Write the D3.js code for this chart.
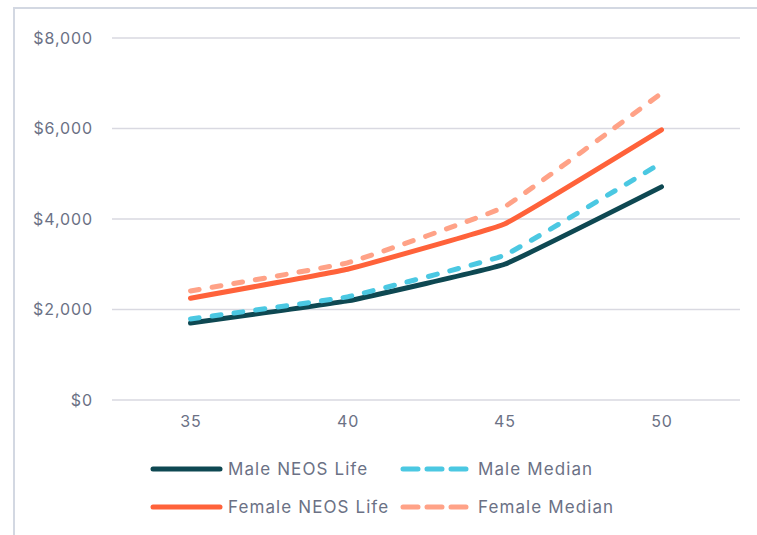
<!DOCTYPE html>
<html>
<head>
<meta charset="utf-8">
<script src="https://cdn.jsdelivr.net/npm/d3@7"></script>
<style>
  html, body { margin: 0; padding: 0; background: #fff; }
  svg { display: block; font-family: "Inter", "Open Sans", sans-serif; }
</style>
</head>
<body>
<svg id="chart" width="757" height="535"></svg>
<script>
// Annual premium by age
const ages = ["35", "40", "45", "50"];
const maleNeos = [1700, 2190, 3000, 4710];
const maleMedian = [1790, 2280, 3200, 5240];
const femaleNeos = [2250, 2890, 3890, 5970];
const femaleMedian = [2410, 3030, 4270, 6780];
const yTicks = [0, 2000, 4000, 6000, 8000];

const seriesNames = ["Male NEOS Life", "Male Median", "Female NEOS Life", "Female Median"];
const seriesColors = ["#0e4852", "#4bc8e2", "#ff623a", "#ffa287"];
const seriesDashed = [false, true, false, true];
const seriesValues = [maleNeos, maleMedian, femaleNeos, femaleMedian];

const svg = d3.select("#chart");
const textColor = "#6b7185";

// frame
svg.append("rect")
  .attr("x", 14).attr("y", 8)
  .attr("width", 780).attr("height", 560)
  .attr("fill", "none")
  .attr("stroke", "#d3d8e2")
  .attr("stroke-width", 2);

const x = d3.scalePoint().domain(ages).range([112, 740]).padding(0.5);
const y = d3.scaleLinear().domain([0, 8000]).range([400, 38]);

// gridlines
svg.append("g").selectAll("line").data(yTicks).join("line")
  .attr("x1", 112).attr("x2", 740)
  .attr("y1", d => y(d)).attr("y2", d => y(d))
  .attr("stroke", "#d9d9e1").attr("stroke-width", 1.5);

// y axis labels
const yAxis = svg.append("g")
  .attr("transform", "translate(93,0)")
  .call(d3.axisLeft(y).tickValues(yTicks).tickSize(0).tickPadding(0)
    .tickFormat(d => "$" + d3.format(",")(d)));
yAxis.select(".domain").remove();
yAxis.selectAll("text").attr("fill", textColor).attr("font-size", 16)
  .attr("letter-spacing", 0.9)
  .attr("font-family", "Inter, 'Open Sans', sans-serif");

// x axis labels
const xAxis = svg.append("g")
  .attr("transform", "translate(0,416)")
  .call(d3.axisBottom(x).tickSize(0).tickPadding(0));
xAxis.select(".domain").remove();
xAxis.selectAll("text").attr("fill", textColor).attr("font-size", 16)
  .attr("letter-spacing", 0.9)
  .attr("dy", "0.71em")
  .attr("font-family", "Inter, 'Open Sans', sans-serif");

// series lines (lightly smoothed)
const line = d3.line()
  .x((d, i) => x(ages[i]))
  .y(d => y(d))
  .curve(d3.curveCardinal.tension(0.75));

const dash = "9,13";
seriesValues.forEach((vals, i) => {
  svg.append("path")
    .datum(vals)
    .attr("d", line)
    .attr("fill", "none")
    .attr("stroke", seriesColors[i])
    .attr("stroke-width", 5)
    .attr("stroke-linecap", "round")
    .attr("stroke-linejoin", "round")
    .attr("stroke-dasharray", seriesDashed[i] ? dash : null);
});

// legend
const legendPos = [
  { lx: 153, ly: 469 },
  { lx: 403, ly: 469 },
  { lx: 153, ly: 507 },
  { lx: 403, ly: 507 }
];
const legend = svg.append("g");
seriesNames.forEach((name, i) => {
  const p = legendPos[i];
  legend.append("line")
    .attr("x1", p.lx).attr("x2", p.lx + 67)
    .attr("y1", p.ly).attr("y2", p.ly)
    .attr("stroke", seriesColors[i])
    .attr("stroke-width", 5)
    .attr("stroke-linecap", "round")
    .attr("stroke-dasharray", seriesDashed[i] ? "15,9" : null);
  legend.append("text")
    .attr("x", p.lx + 75)
    .attr("y", p.ly)
    .attr("dy", "0.35em")
    .attr("fill", textColor)
    .attr("font-size", 17)
    .attr("letter-spacing", 1.1)
    .text(name);
});
</script>
</body>
</html>
